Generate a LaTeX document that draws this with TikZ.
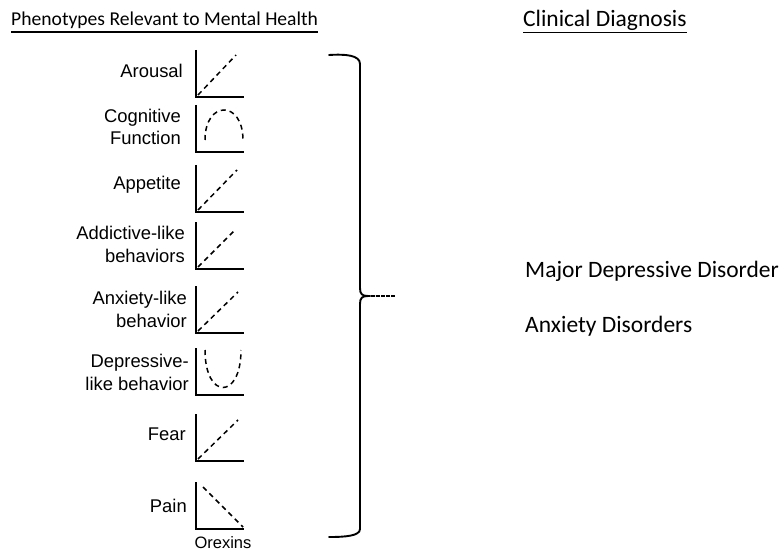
\documentclass[tikz,border=0pt]{standalone}
\usepackage{fontspec}
\setmainfont{Carlito}
\newfontfamily\arialf{Liberation Sans}
\begin{document}
\begin{tikzpicture}[x=1pt,y=-1pt,
  title/.style={inner sep=0pt,anchor=base west,font=\fontsize{19.6}{24}\selectfont},
  diag/.style={inner sep=0pt,anchor=base west,font=\fontsize{23.5}{28}\selectfont},
  lab/.style={inner sep=0pt,anchor=base east,align=right,font=\arialf\fontsize{18.4}{22.5}\selectfont},
  axis/.style={line width=1.9pt},
  trend/.style={line width=1.5pt,dash pattern=on 5pt off 4pt},
  bracel/.style={line width=1.9pt,line cap=round}]
\useasboundingbox (0,0) rectangle (783,553);
% titles
\node[title] (t1) at (11,26) {Phenotypes Relevant to Mental Health};
\draw[line width=1.8pt] ([yshift=-6pt]t1.base west) -- ([yshift=-6pt]t1.base east);
\node[diag] (t2) at (523,27) {Clinical Diagnosis};
\draw[line width=1.8pt] ([yshift=-5.5pt]t2.base west) -- ([yshift=-5.5pt]t2.base east);
% right texts
\node[diag] (mdd) at (525,277) {Major Depressive Disorder};
\node[diag] (anx) at (525,332) {Anxiety Disorders};
% labels
\node[lab] (l1) at (183,78) {Arousal};
\node[lab] (l2) at (181,145) {Cognitive\\Function};
\node[lab] (l3) at (181,190) {Appetite};
\node[lab] (l4) at (185,262) {Addictive-like\\behaviors};
\node[lab] (l5) at (187,327) {Anxiety-like\\behavior};
\node[lab] (l6) at (189,390) {Depressive-\\like behavior};
\node[lab] (l7) at (186,440) {Fear};
\node[lab] (l8) at (187,512) {Pain};
\node[inner sep=0pt,anchor=base,font=\arialf\fontsize{16.5}{19}\selectfont] (orx) at (223,548) {Orexins};
% axes
\foreach \yb in {97,152,212,269,333,395,461,529}{
  \draw[axis] (196,\yb-47) -- (196,\yb) -- (244,\yb);
}
% trends
\draw[trend] (198,95) -- (236,55);
\draw[trend] (205,140) .. controls (205,100) and (243,100) .. (243,140);
\draw[trend] (198,210) -- (237,170);
\draw[trend] (198,267) -- (236,229);
\draw[trend] (198,331) -- (238,292);
\draw[trend] (205,350) .. controls (205,400) and (241,400) .. (241,350);
\draw[trend] (198,459) -- (238,420);
\draw[trend] (203,487) -- (243,527);
% brace
\draw[bracel] (329,55) .. controls (345,54) and (360,55) .. (360,64) -- (360,288)
  .. controls (360,294) and (362,296) .. (368,296)
  .. controls (362,296) and (360,298) .. (360,304) -- (360,529)
  .. controls (360,536) and (345,537) .. (329,537);
\draw[line width=2.2pt,dash pattern=on 4pt off 1pt] (366,296) -- (395,296);
\end{tikzpicture}
\end{document}
